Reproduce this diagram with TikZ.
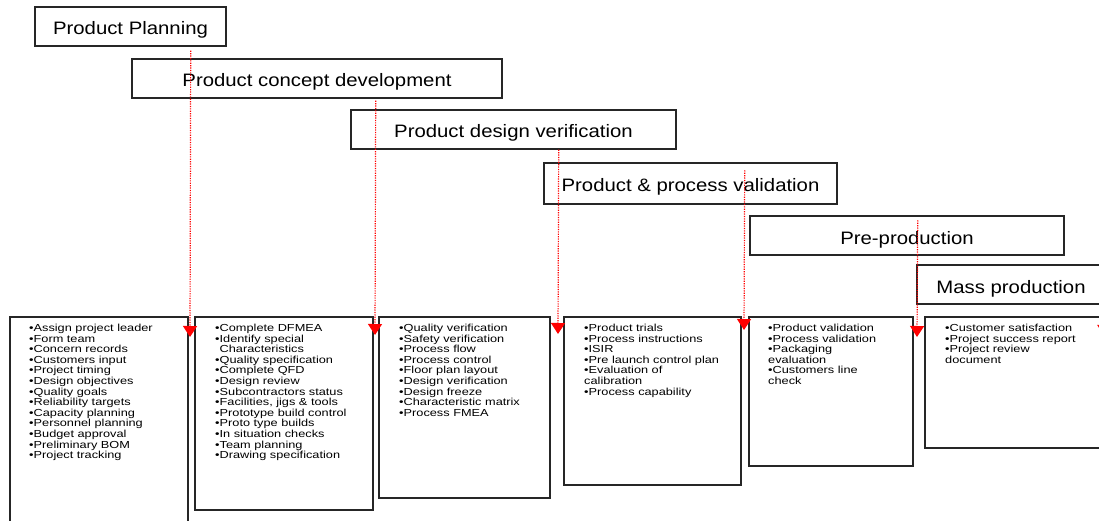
\documentclass[tikz,border=0pt]{standalone}
\usepackage{fontspec}
\setmainfont{Liberation Sans}
\newfontfamily\phasefont{Liberation Sans}[FakeStretch=1.13]
\newfontfamily\itemfont{Liberation Sans}[FakeStretch=1.25]
\usetikzlibrary{arrows.meta}

\begin{document}
\begin{tikzpicture}[
		x=1pt, y=1pt,
		phase/.style={draw=black!85, line width=1.4pt, minimum height=39pt, inner sep=0pt, text height=17pt, text depth=0pt, font=\phasefont\fontsize{18}{20}\selectfont},
		list/.style={draw=black!85, line width=1.5pt, anchor=north west, inner sep=0pt},
		items/.style={anchor=north west, align=left, inner sep=0pt, font=\itemfont\fontsize{10.2}{10.6}\selectfont},
		arr/.style={-{Triangle[width=14pt, length=11pt]}, red, line width=1.2pt, dash pattern=on 1.2pt off 1.2pt}
	]
		\useasboundingbox (0,0) rectangle (1099,520);
		\clip (0,0) rectangle (1099,520);

		% phases, stepping down to the right
		\node[phase, minimum width=191pt] (plan) at (130.5,493.5) {Product Planning};
		\node[phase, minimum width=370pt] (concept) at (317,441.5) {Product concept development};
		\node[phase, minimum width=325pt] (design) at (513.5,390.5) {Product design verification};
		\node[phase, minimum width=293pt, minimum height=41pt] (valid) at (690.5,336.5) {Product \& process validation};
		\node[phase, minimum width=314pt] (preprod) at (907,284.5) {Pre-production};
		\node[phase, minimum width=188pt] (mass) at (1011,235.5) {Mass production};

		% deliverables of each phase
		\node[list, minimum width=178pt, minimum height=230pt] (c1) at (9,204) {};
		\node[list, minimum width=178pt, minimum height=193pt] (c2) at (194,204) {};
		\node[list, minimum width=171pt, minimum height=181pt] (c3) at (378,204) {};
		\node[list, minimum width=177pt, minimum height=168pt] (c4) at (563,204) {};
		\node[list, minimum width=164pt, minimum height=149pt] (c5) at (748,204) {};
		\node[list, minimum width=190pt, minimum height=131pt] (c6) at (924,204) {};

		\node[items] (t1) at ([shift={(20pt,-8pt)}]c1.north west) {•Assign project leader\\•Form team\\•Concern records\\•Customers input\\•Project timing\\•Design objectives\\•Quality goals\\•Reliability targets\\•Capacity planning\\•Personnel planning\\•Budget approval\\•Preliminary BOM\\•Project tracking};
		\node[items] (t2) at ([shift={(21pt,-8pt)}]c2.north west) {•Complete DFMEA\\•Identify special\\\phantom{•}Characteristics\\•Quality specification\\•Complete QFD\\•Design review\\•Subcontractors status\\•Facilities, jigs \& tools\\•Prototype build control\\•Proto type builds\\•In situation checks\\•Team planning\\•Drawing specification};
		\node[items] (t3) at ([shift={(21pt,-8pt)}]c3.north west) {•Quality verification\\•Safety verification\\•Process flow\\•Process control\\•Floor plan layout\\•Design verification\\•Design freeze\\•Characteristic matrix\\•Process FMEA};
		\node[items] (t4) at ([shift={(21pt,-8pt)}]c4.north west) {•Product trials\\•Process instructions\\•ISIR\\•Pre launch control plan\\•Evaluation of\\calibration\\•Process capability};
		\node[items] (t5) at ([shift={(20pt,-8pt)}]c5.north west) {•Product validation\\•Process validation\\•Packaging\\evaluation\\•Customers line\\check};
		\node[items] (t6) at ([shift={(21pt,-8pt)}]c6.north west) {•Customer satisfaction\\•Project success report\\•Project review\\document};

		\coordinate (g1) at (190,183);
		\coordinate (g2) at (375,185);
		\coordinate (g3) at (558,186);
		\coordinate (g4) at (744,190);
		\coordinate (g5) at (917,183);
		\coordinate (g6) at (1104,184);

		\draw[arr] ([shift={(-36pt,-4pt)}]plan.south east) -- (g1);
		\draw[arr] ([shift={(-127pt,-2pt)}]concept.south east) -- (g2);
		\draw[arr] ([xshift=-118pt]design.south east) -- (g3);
		\draw[arr] ([shift={(-93pt,-8pt)}]valid.north east) -- (g4);
		\draw[arr] ([shift={(-147pt,-5pt)}]preprod.north east) -- (g5);
		\draw[arr] ([xshift=-1pt]mass.south east) -- (g6);
	\end{tikzpicture}
\end{document}
